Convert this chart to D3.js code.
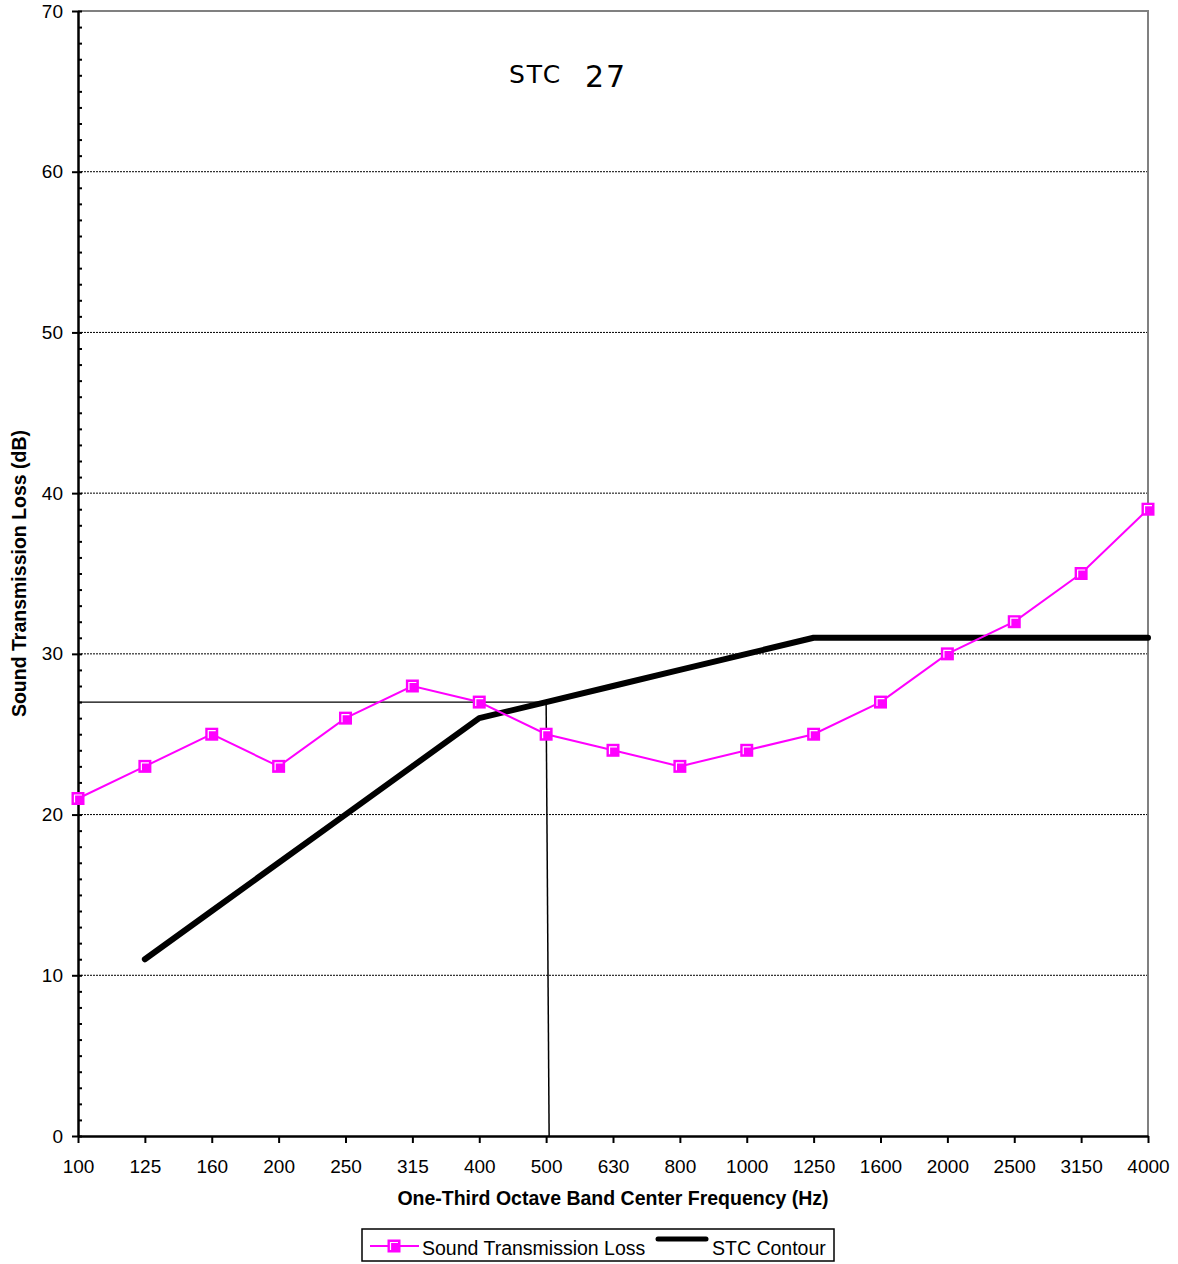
<!DOCTYPE html>
<html>
<head>
<meta charset="utf-8">
<script src="https://cdn.jsdelivr.net/npm/d3@7/dist/d3.min.js"></script>
<style>
  body { margin: 0; background: #fff; }
  svg { display: block; font-family: 'Liberation Sans', Arial, sans-serif; }
</style>
</head>
<body>
<svg id="chart" width="1178" height="1264"></svg>
<script>
// one-third octave band centre frequencies
var bands = ['100', '125', '160', '200', '250', '315', '400', '500', '630', '800', '1000', '1250', '1600', '2000', '2500', '3150', '4000']
// measured sound transmission loss (dB)
var stl = [21, 23, 25, 23, 26, 28, 27, 25, 24, 23, 24, 25, 27, 30, 32, 35, 39]
// fitted STC contour, 125 Hz .. 4000 Hz
var contourBands = ['125', '160', '200', '250', '315', '400', '500', '630', '800', '1000', '1250', '1600', '2000', '2500', '3150', '4000']
var contour = [11, 14, 17, 20, 23, 26, 27, 28, 29, 30, 31, 31, 31, 31, 31, 31]
var stcRating = 27
var stcBand = '500'
var yTicks = [0, 10, 20, 30, 40, 50, 60, 70]
var gridTicks = [10, 20, 30, 40, 50, 60]

var svg = d3.select('#chart')
var margin = {top: 11, right: 30, bottom: 128, left: 78}
var width = 1178 - margin.left - margin.right
var height = 1264 - margin.top - margin.bottom

var g = svg.append('g')
  .attr('transform', 'translate(' + margin.left + ',' + margin.top + ')')

// categories sit on the tick marks, first and last at the edges
var x = d3.scalePoint()
  .domain(bands)
  .range([0, width])
var y = d3.scaleLinear()
  .domain([0, 70])
  .range([height, 0])

// dotted grid lines
g.append('g')
  .selectAll('line')
  .data(gridTicks)
  .enter().append('line')
  .attr('x1', 0)
  .attr('x2', width)
  .attr('y1', (d) => y(d))
  .attr('y2', (d) => y(d))
  .attr('stroke', '#000')
  .attr('stroke-width', 1)
  .attr('stroke-dasharray', '2,1')

// plot border top / right in grey
g.append('path')
  .attr('d', 'M0,' + y(70) + 'H' + width + 'V' + height)
  .attr('fill', 'none')
  .attr('stroke', '#808080')
  .attr('stroke-width', 2)

// rating guide lines at STC value
g.append('line')
  .attr('x1', 0)
  .attr('x2', x(stcBand))
  .attr('y1', y(stcRating))
  .attr('y2', y(stcRating))
  .attr('stroke', '#000')
  .attr('stroke-width', 1.2)
g.append('line')
  .attr('x1', x(stcBand))
  .attr('x2', x(stcBand) + 3)
  .attr('y1', y(stcRating))
  .attr('y2', y(0))
  .attr('stroke', '#000')
  .attr('stroke-width', 1.5)

// y axis: minor ticks inside every 1 dB
g.append('g')
  .call(d3.axisRight(y).ticks(70).tickSize(4).tickFormat(''))
  .call((a) => a.select('.domain').remove())
  .selectAll('line').attr('stroke-width', 2)

g.append('g')
  .attr('class', 'y-axis')
  .call(d3.axisLeft(y).tickValues(yTicks).tickSize(6).tickPadding(9).tickSizeOuter(0))
  .call((a) => a.select('.domain').attr('stroke-width', 2.5))
  .call((a) => a.selectAll('line').attr('stroke-width', 2))
  .selectAll('text')
  .style('font-size', '19px')
  .attr('fill', '#000')

// x axis
g.append('g')
  .attr('transform', 'translate(0,' + height + ')')
  .call(d3.axisBottom(x).tickSize(7).tickPadding(17).tickSizeOuter(0))
  .call((a) => a.select('.domain').attr('stroke-width', 2.5))
  .call((a) => a.selectAll('line').attr('stroke-width', 2))
  .selectAll('text')
  .style('font-size', '19px')
  .attr('fill', '#000')

// STC contour
var contourLine = d3.line()
  .x((d, i) => x(contourBands[i]))
  .y((d) => y(d))
g.append('path')
  .datum(contour)
  .attr('fill', 'none')
  .attr('stroke', '#000')
  .attr('stroke-width', 6)
  .attr('stroke-linejoin', 'round')
  .attr('stroke-linecap', 'round')
  .attr('d', contourLine)

// measured transmission loss
var stlLine = d3.line()
  .x((d, i) => x(bands[i]))
  .y((d) => y(d))
g.append('path')
  .datum(stl)
  .attr('fill', 'none')
  .attr('stroke', '#FF00FF')
  .attr('stroke-width', 2)
  .attr('d', stlLine)

function marker (sel) {
  sel.append('rect')
    .attr('x', -6.5).attr('y', -6.5)
    .attr('width', 13).attr('height', 13)
    .attr('fill', '#FF00FF')
  sel.append('path')
    .attr('d', 'M-3.5,4V-3.5H4')
    .attr('fill', 'none')
    .attr('stroke', '#fff')
    .attr('stroke-width', 1.2)
}

g.append('g')
  .selectAll('g')
  .data(stl)
  .enter().append('g')
  .attr('transform', (d, i) => 'translate(' + x(bands[i]) + ',' + y(d) + ')')
  .call(marker)

// STC label
var lbl = svg.append('text')
  .attr('x', 509)
  .attr('y', 83)
  .style('font-family', "'DejaVu Sans', Verdana, sans-serif")
  .attr('fill', '#000')
lbl.append('tspan').style('font-size', '25px').style('letter-spacing', '2px').text('STC')
lbl.append('tspan').attr('x', 585).attr('dy', 4).style('font-size', '30px').style('letter-spacing', '2px').text(stcRating)

// axis titles
svg.append('text')
  .attr('x', margin.left + width / 2)
  .attr('y', 1205)
  .attr('text-anchor', 'middle')
  .style('font-size', '19.5px')
  .style('font-weight', 'bold')
  .text('One-Third Octave Band Center Frequency (Hz)')

svg.append('text')
  .attr('transform', 'translate(26,' + (margin.top + height / 2) + ') rotate(-90)')
  .attr('text-anchor', 'middle')
  .style('font-size', '19.5px')
  .style('font-weight', 'bold')
  .text('Sound Transmission Loss (dB)')

// legend
var legend = svg.append('g').attr('transform', 'translate(362,1229)')
legend.append('rect')
  .attr('width', 472)
  .attr('height', 32)
  .attr('fill', '#fff')
  .attr('stroke', '#000')
  .attr('stroke-width', 1.5)
legend.append('line')
  .attr('x1', 8).attr('x2', 57)
  .attr('y1', 17).attr('y2', 17)
  .attr('stroke', '#FF00FF')
  .attr('stroke-width', 2)
legend.append('g')
  .attr('transform', 'translate(32,17)')
  .call(marker)
legend.append('text')
  .attr('x', 60).attr('y', 26)
  .style('font-size', '19.5px')
  .text('Sound Transmission Loss')
legend.append('line')
  .attr('x1', 296).attr('x2', 344)
  .attr('y1', 10).attr('y2', 10)
  .attr('stroke', '#000')
  .attr('stroke-width', 5)
  .attr('stroke-linecap', 'round')
legend.append('text')
  .attr('x', 350).attr('y', 26)
  .style('font-size', '19.5px')
  .text('STC Contour')
</script>
</body>
</html>
